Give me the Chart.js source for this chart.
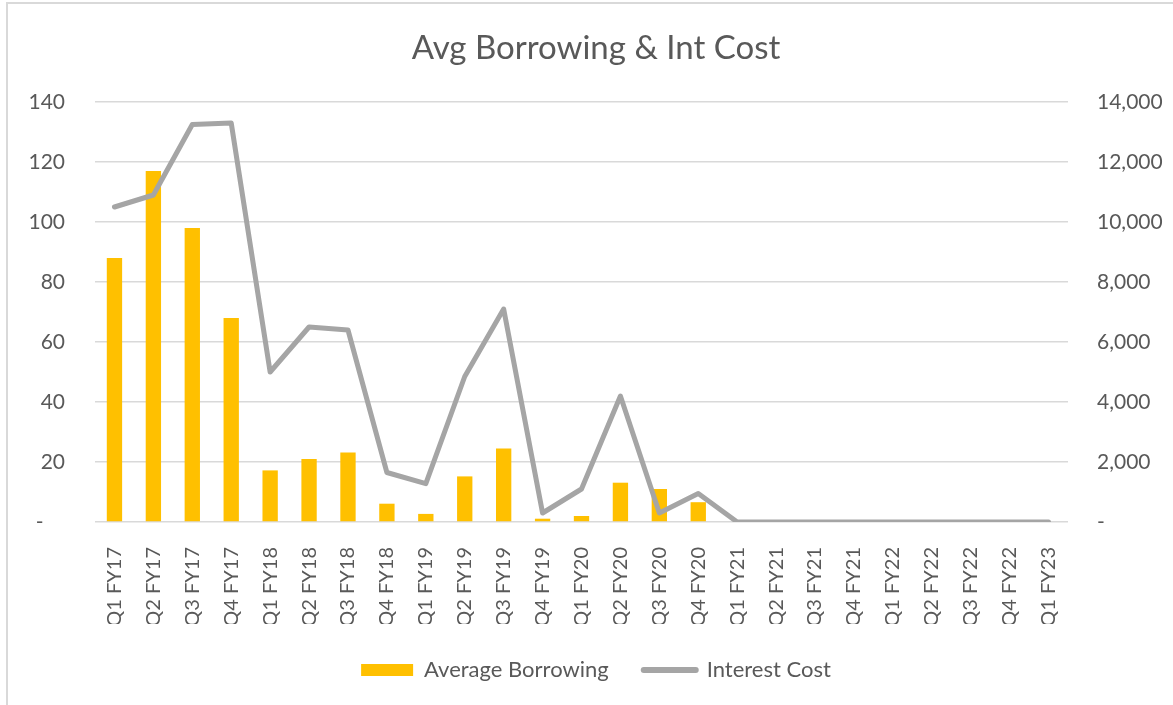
<!DOCTYPE html>
<html>
<head>
<meta charset="utf-8">
<title>Avg Borrowing &amp; Int Cost</title>
<script src="https://cdn.jsdelivr.net/npm/chart.js@4.4.1/dist/chart.umd.min.js"></script>
<style>
  html, body { margin: 0; padding: 0; background: #ffffff; overflow: hidden; }
  #frame {
    position: absolute; left: 6px; top: 2px; width: 1300px; height: 800px;
    border: 2px solid #D9D9D9; box-sizing: border-box;
  }
  #wrap { position: absolute; left: 0; top: 0; width: 1173px; height: 705px; }
</style>
</head>
<body>
<div id="frame"></div>
<div id="wrap"><canvas id="chart" width="1173" height="705"></canvas></div>
<script>
// Quarterly categories
const quarters = [
  'Q1 FY17', 'Q2 FY17', 'Q3 FY17', 'Q4 FY17',
  'Q1 FY18', 'Q2 FY18', 'Q3 FY18', 'Q4 FY18',
  'Q1 FY19', 'Q2 FY19', 'Q3 FY19', 'Q4 FY19',
  'Q1 FY20', 'Q2 FY20', 'Q3 FY20', 'Q4 FY20',
  'Q1 FY21', 'Q2 FY21', 'Q3 FY21', 'Q4 FY21',
  'Q1 FY22', 'Q2 FY22', 'Q3 FY22', 'Q4 FY22',
  'Q1 FY23'
];

// Average borrowing (left axis)
const averageBorrowing = [
  88, 117, 98, 68,
  17.2, 21, 23.2, 6.1,
  2.7, 15.2, 24.5, 1.1,
  2.0, 13.1, 11, 6.6,
  0, 0, 0, 0,
  0, 0, 0, 0,
  0
];

// Interest cost (right axis)
const interestCost = [
  10500, 10900, 13250, 13300,
  5000, 6500, 6400, 1650,
  1280, 4850, 7100, 300,
  1100, 4200, 300, 950,
  0, 0, 0, 0,
  0, 0, 0, 0,
  0
];

// Axis tick values
const leftTicks = [0, 20, 40, 60, 80, 100, 120, 140];
const rightTicks = [0, 2000, 4000, 6000, 8000, 10000, 12000, 14000];

const BAR_COLOR = '#FFC000';
const LINE_COLOR = '#A5A5A5';
const TEXT_COLOR = '#595959';
const GRID_COLOR = '#D9D9D9';
const FONT = 'Lato, "Open Sans", sans-serif';

Chart.defaults.font.family = FONT;
Chart.defaults.color = TEXT_COLOR;

new Chart(document.getElementById('chart'), {
  type: 'bar',
  data: {
    labels: quarters,
    datasets: [
      {
        type: 'bar',
        label: 'Average Borrowing',
        data: averageBorrowing,
        backgroundColor: BAR_COLOR,
        borderWidth: 0,
        yAxisID: 'y',
        categoryPercentage: 1,
        barPercentage: 0.394,
        order: 2
      },
      {
        type: 'line',
        label: 'Interest Cost',
        data: interestCost,
        borderColor: LINE_COLOR,
        backgroundColor: LINE_COLOR,
        borderWidth: 5,
        pointRadius: 0,
        pointHoverRadius: 0,
        tension: 0,
        borderCapStyle: 'round',
        borderJoinStyle: 'round',
        yAxisID: 'y1',
        order: 1
      }
    ]
  },
  options: {
    responsive: false,
    animation: false,
    events: [],
    layout: { padding: { left: 19, right: 0, top: 0, bottom: 14 } },
    plugins: {
      tooltip: { enabled: false },
      title: {
        display: true,
        text: 'Avg Borrowing & Int Cost',
        color: TEXT_COLOR,
        font: { size: 33, weight: 'normal', family: FONT },
        padding: { top: 29, bottom: 33.4 }
      },
      legend: {
        position: 'bottom',
        labels: {
          color: TEXT_COLOR,
          font: { size: 22, family: FONT },
          usePointStyle: true,
          pointStyleWidth: 52,
          boxHeight: 12,
          padding: 35,
          sort: (a, b) => a.datasetIndex - b.datasetIndex,
          generateLabels(chart) {
            const items = Chart.defaults.plugins.legend.labels.generateLabels(chart);
            return items.map(it => it.datasetIndex === 0
              ? { ...it, pointStyle: 'rect', fillStyle: BAR_COLOR, strokeStyle: BAR_COLOR, lineWidth: 0 }
              : { ...it, pointStyle: 'line', fillStyle: LINE_COLOR, strokeStyle: LINE_COLOR, lineWidth: 6, lineCap: 'round' });
          }
        }
      }
    },
    scales: {
      x: {
        grid: { display: false, drawTicks: false },
        border: { display: false },
        offset: true,
        ticks: {
          autoSkip: false,
          minRotation: 90,
          maxRotation: 90,
          padding: 25,
          color: TEXT_COLOR,
          font: { size: 20, family: FONT }
        },
        afterFit(scale) { scale.height = 102; }
      },
      y: {
        position: 'left',
        min: leftTicks[0],
        max: leftTicks[leftTicks.length - 1],
        afterBuildTicks(scale) { scale.ticks = leftTicks.map(v => ({ value: v })); },
        grid: { color: GRID_COLOR, lineWidth: 1.5, drawTicks: false },
        border: { display: false },
        ticks: {
          padding: 30,
          color: TEXT_COLOR,
          font: { size: 21, family: FONT },
          callback: v => (v === 0 ? '-    ' : String(v))
        },
        afterFit(scale) { scale.width = 95 - 19; }
      },
      y1: {
        position: 'right',
        min: rightTicks[0],
        max: rightTicks[rightTicks.length - 1],
        afterBuildTicks(scale) { scale.ticks = rightTicks.map(v => ({ value: v })); },
        grid: { display: false, drawTicks: false },
        border: { display: false },
        ticks: {
          padding: 29,
          color: TEXT_COLOR,
          font: { size: 21, family: FONT },
          callback: v => (v === 0 ? '-' : v.toLocaleString('en-US'))
        },
        afterFit(scale) { scale.width = 1173 - 1068; }
      }
    }
  }
});
</script>
</body>
</html>
